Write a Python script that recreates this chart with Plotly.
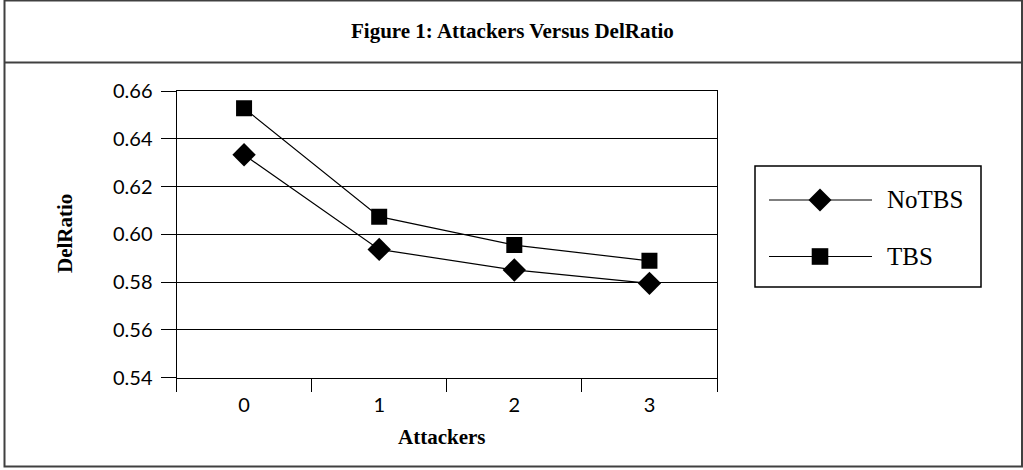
import plotly.graph_objects as go

# Series values
attackers = ["0", "1", "2", "3"]
notbs = [0.6333, 0.5937, 0.5851, 0.5795]
tbs = [0.6528, 0.6074, 0.5955, 0.5889]
series_names = ["NoTBS", "TBS"]

W, H = 1023, 470
SERIF = "Liberation Serif"
SANS = "Lato"


def px(x):
    return x / W


def py(y):
    return 1 - y / H


fig = go.Figure()

fig.add_trace(go.Scatter(
    x=attackers, y=notbs, name=series_names[0], mode="lines+markers",
    line=dict(color="black", width=1.2),
    marker=dict(symbol="diamond", size=18, color="black"),
    showlegend=False,
))
fig.add_trace(go.Scatter(
    x=attackers, y=tbs, name=series_names[1], mode="lines+markers",
    line=dict(color="black", width=1.2),
    marker=dict(symbol="square", size=16, color="black"),
    showlegend=False,
))

# Plot area in pixels
L, R, T, B = 176.5, 717, 91, 377.7

fig.update_xaxes(
    type="category", categoryorder="array", categoryarray=attackers,
    range=[-0.5, len(attackers) - 0.5],
    domain=[px(L), px(R)],
    tickson="boundaries", ticks="outside", ticklen=13, tickwidth=1, tickcolor="black",
    showline=True, linecolor="black", linewidth=1, mirror=True,
    showgrid=False, zeroline=False,
    ticklabelstandoff=9,
    tickfont=dict(family=SANS, size=20, color="black"),
)
fig.update_yaxes(
    range=[0.54, 0.66], tick0=0.54, dtick=0.02, tickformat=".2f",
    domain=[py(B), py(T)],
    ticks="outside", ticklen=15, tickwidth=1, tickcolor="black",
    showline=True, linecolor="black", linewidth=1, mirror=True,
    showgrid=True, gridcolor="black", gridwidth=1, zeroline=False,
    ticklabelstandoff=4,
    tickfont=dict(family=SANS, size=20, color="black"),
)

shapes = []
# Outer frame and title separator
shapes.append(dict(type="rect", xref="paper", yref="paper",
                   x0=px(4.5), x1=px(1022), y0=py(466.5), y1=py(0.5),
                   line=dict(color="#404040", width=2)))
shapes.append(dict(type="line", xref="paper", yref="paper",
                   x0=px(4.5), x1=px(1022), y0=py(62.5), y1=py(62.5),
                   line=dict(color="#404040", width=2)))

# Legend box
LX0, LX1, LY0, LY1 = 755, 981, 166, 287
shapes.append(dict(type="rect", xref="paper", yref="paper",
                   x0=px(LX0), x1=px(LX1), y0=py(LY1), y1=py(LY0),
                   line=dict(color="black", width=1.5)))

legend_rows = [200, 256.5]
for name, yy in zip(series_names, legend_rows):
    shapes.append(dict(type="line", xref="paper", yref="paper",
                       x0=px(769), x1=px(872), y0=py(yy), y1=py(yy),
                       line=dict(color="black", width=1.2)))
    cx = 820
    if name == "NoTBS":
        r = 11.5
        path = (f"M {px(cx - r)},{py(yy)} L {px(cx)},{py(yy - r)} "
                f"L {px(cx + r)},{py(yy)} L {px(cx)},{py(yy + r)} Z")
    else:
        r = 8.3
        path = (f"M {px(cx - r)},{py(yy - r)} L {px(cx + r)},{py(yy - r)} "
                f"L {px(cx + r)},{py(yy + r)} L {px(cx - r)},{py(yy + r)} Z")
    shapes.append(dict(type="path", xref="paper", yref="paper", path=path,
                       fillcolor="black", line=dict(color="black", width=0)))

annotations = [
    dict(text="<b>Figure 1: Attackers Versus DelRatio</b>", x=px(512), y=py(31),
         xref="paper", yref="paper", showarrow=False, xanchor="center", yanchor="middle",
         font=dict(family=SERIF, size=21, color="black")),
    dict(text="<b>Attackers</b>", x=px(441), y=py(436.5),
         xref="paper", yref="paper", showarrow=False, xanchor="center", yanchor="middle",
         font=dict(family=SERIF, size=21, color="black")),
    dict(text="<b>DelRatio</b>", x=px(65), y=py(234),
         xref="paper", yref="paper", showarrow=False, xanchor="center", yanchor="middle",
         textangle=-90, font=dict(family=SERIF, size=21, color="black")),
]
for name, yy in zip(series_names, legend_rows):
    annotations.append(dict(text=name, x=px(885), y=py(yy), xref="paper", yref="paper",
                            showarrow=False, xanchor="left", yanchor="middle",
                            font=dict(family=SERIF, size=25, color="black")))

fig.update_layout(
    width=W, height=H,
    margin=dict(l=0, r=0, t=0, b=0, autoexpand=False),
    paper_bgcolor="white", plot_bgcolor="white",
    shapes=shapes, annotations=annotations,
    showlegend=False,
)

fig.write_html("out.html")
